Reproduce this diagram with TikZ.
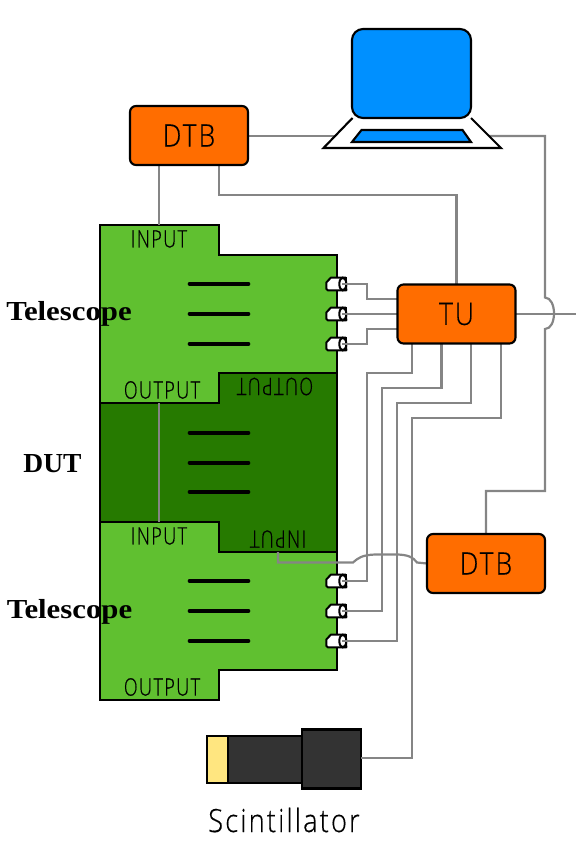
\documentclass[tikz,border=0pt]{standalone}
\usepackage{fontspec}
\usepackage{graphicx}
\usetikzlibrary{calc}
\setmainfont{Liberation Serif}
\newfontfamily\thinfont[LetterSpace=8,FakeBold=0.5]{Open Sans Light}
\newcommand{\tlabel}[3]{\scalebox{#2}[1]{\thinfont\fontsize{#1pt}{#1pt}\selectfont #3}}
\definecolor{lightg}{HTML}{60C030}
\definecolor{darkg}{HTML}{267A00}
\definecolor{boxor}{HTML}{FF6D00}
\definecolor{scrblue}{HTML}{0090FF}
\definecolor{wire}{HTML}{858585}
\definecolor{pmt}{HTML}{333333}
\definecolor{crystal}{HTML}{FFE680}
\pgfdeclarelayer{fg}
\pgfsetlayers{main,fg}
\tikzset{
  blockline/.style={draw=black,line width=2.1pt,line join=miter},
  strip/.style={line width=3.6pt,line cap=round,black},
  wireline/.style={draw=wire,line width=2.2pt},
  orangebox/.style={draw=black,line width=2.1pt,fill=boxor,rounded corners=6pt,minimum width=118pt,minimum height=59pt,inner sep=0pt,outer sep=0pt},
  plainlabel/.style={inner sep=0pt,outer sep=0pt,text=black},
  sidelabel/.style={inner sep=0pt,outer sep=0pt,font=\bfseries\fontsize{27.5pt}{27.5pt}\selectfont},
  ledpic/.pic={
    \path[draw=black,line width=2pt,fill=white,line join=round] (-12,-6.3) -- (3,-6.3) -- (3.5,6.3) -- (-15,6.3) -- (-16.5,4.8) -- (-16.5,-1.5) -- cycle;
    \path[draw=black,line width=2pt,fill=white] (0,0) ellipse (3.5 and 6.3);
    \path[draw=black,line width=2pt] (0,-6.3) -- (3.5,-6.3) -- (3.5,6.3) -- (0,6.3);
  }
}
\begin{document}
\begin{tikzpicture}[x=1pt,y=-1pt]
\useasboundingbox (0,0) rectangle (580,858);
\begin{pgfonlayer}{fg}
  \node[orangebox] (dtbtop) at (189,135.5) {\tlabel{31}{0.85}{DTB}};
  \node[orangebox] (tu) at (456.5,314) {\tlabel{31}{0.85}{TU}};
  \node[orangebox] (dtbbot) at (486,563.5) {\tlabel{31}{0.85}{DTB}};
  % laptop
  \node[draw=black,line width=2.1pt,fill=scrblue,rounded corners=11pt,minimum width=119pt,minimum height=89pt,inner sep=0pt,outer sep=0pt] (screen) at (411.5,73.5) {};
  \draw[black,line width=2.1pt,line join=miter] (352.5,118) -- (323.5,148) -- (501,148) -- (471,118);
  \draw[black,line width=2.1pt,fill=scrblue,line join=miter] (361.5,130) -- (462.5,130) -- (471,142) -- (352,142) -- cycle;
\end{pgfonlayer}
% boards
\path[blockline,fill=lightg] (100,225) -- (219,225) -- (219,255) -- (337,255) -- (337,373) -- (219,373) -- (219,403) -- (100,403) -- cycle;
\path[blockline,fill=darkg] (100,403) -- (219,403) -- (219,373) -- (337,373) -- (337,552) -- (219,552) -- (219,522) -- (100,522) -- cycle;
\path[blockline,fill=lightg] (100,522) -- (219,522) -- (219,552) -- (337,552) -- (337,670) -- (219,670) -- (219,700) -- (100,700) -- cycle;
% strips
\foreach \yy in {284,314,344,433,463,492,581,611,641}
  \draw[strip] (189.5,\yy) -- (248.5,\yy);
% board labels
\node[plainlabel] (intop) at (159,239) {\tlabel{24}{0.75}{INPUT}};
\node[plainlabel] (outtop) at (162,390) {\tlabel{24}{0.75}{OUTPUT}};
\node[plainlabel,rotate=180] (outdut) at (275,386.5) {\tlabel{24}{0.75}{OUTPUT}};
\node[plainlabel] (inbot) at (159,536) {\tlabel{24}{0.75}{INPUT}};
\node[plainlabel,rotate=180] (indut) at (278,539) {\tlabel{24}{0.75}{INPUT}};
\node[plainlabel] (outbot) at (162,687) {\tlabel{24}{0.75}{OUTPUT}};
\node[sidelabel] (teltop) at (69,314) {\scalebox{1.12}[1]{Telescope}};
\node[sidelabel] (dut) at (52.5,464) {DUT};
\node[sidelabel] (telbot) at (69.5,612) {\scalebox{1.12}[1]{Telescope}};
% LEDs
\foreach \nm/\yy in {la/284,lb/314,lc/344,ld/581,le/611,lf/641}{
  \pic at (342.8,\yy) {ledpic};
  \coordinate (\nm) at (342,\yy);
}
% scintillator
\node[draw=black,line width=2.1pt,fill=crystal,minimum width=21pt,minimum height=47pt,inner sep=0pt,outer sep=0pt] (crys) at (217.5,759.5) {};
\node[draw=black,line width=2.1pt,fill=pmt,minimum width=74pt,minimum height=47pt,inner sep=0pt,outer sep=0pt] (tube) at (265,759.5) {};
\node[draw=black,line width=2.1pt,fill=pmt,minimum width=59pt,minimum height=59pt,inner sep=0pt,outer sep=0pt] (head) at (331.5,759) {};
\node[plainlabel] (scint) at (284,820) {\tlabel{32}{0.85}{Scintillator}};
% free ends
\coordinate (lapl) at (335,136);
\coordinate (lapr) at (489,136);
\coordinate (exitpt) at (576,314);
\coordinate (intopend) at (159,225);
\coordinate (outtopend) at (159,403);
\coordinate (inbotend) at (159,522);
\coordinate (indutend) at (278,552);
% wires
\draw[wireline] ([xshift=-30pt]dtbtop.south) -- (intopend);
\draw[wireline] ([xshift=30pt]dtbtop.south) |- (456.5,195) -- (tu.north);
\draw[wireline] (dtbtop.east |- lapl) -- (lapl);
\draw[wireline] (lapr) -- (545,136) -- (545,297.5) .. controls (557,298) and (557,329) .. (545,329) -- (545,491) -- (dtbbot.north |- 0,491) -- (dtbbot.north);
\draw[wireline] (tu.east) -- (exitpt);
\draw[wireline] (la) -- (367,284) -- (367,299) -- ([yshift=15pt]tu.west);
\draw[wireline] (lb) -- (tu.west);
\draw[wireline] (lc) -- (367,344) -- (367,329) -- ([yshift=-15pt]tu.west);
\draw[wireline] ([xshift=-44.5pt]tu.south) -- (412,373) -- (367,373) -- (367,581) -- (ld);
\draw[wireline] ([xshift=-15pt]tu.south) -- (441.5,388) -- (382,388) -- (382,611) -- (le);
\draw[wireline] ([xshift=14.5pt]tu.south) -- (471,403) -- (397,403) -- (397,641) -- (lf);
\draw[wireline] ([xshift=44.5pt]tu.south) -- (501,418) -- (412,418) -- (412,758) -- (head.east |- 0,758);
\draw[wireline] (outtopend) -- (inbotend);
\draw[wireline] (indutend) -- (278,562.5) -- (353,562.5) .. controls (358,558) and (362,555) .. (375,554.5) -- (398,554.5) .. controls (408,555) and (413,557) .. (417,562.5) -- (dtbbot.west);
\end{tikzpicture}
\end{document}
